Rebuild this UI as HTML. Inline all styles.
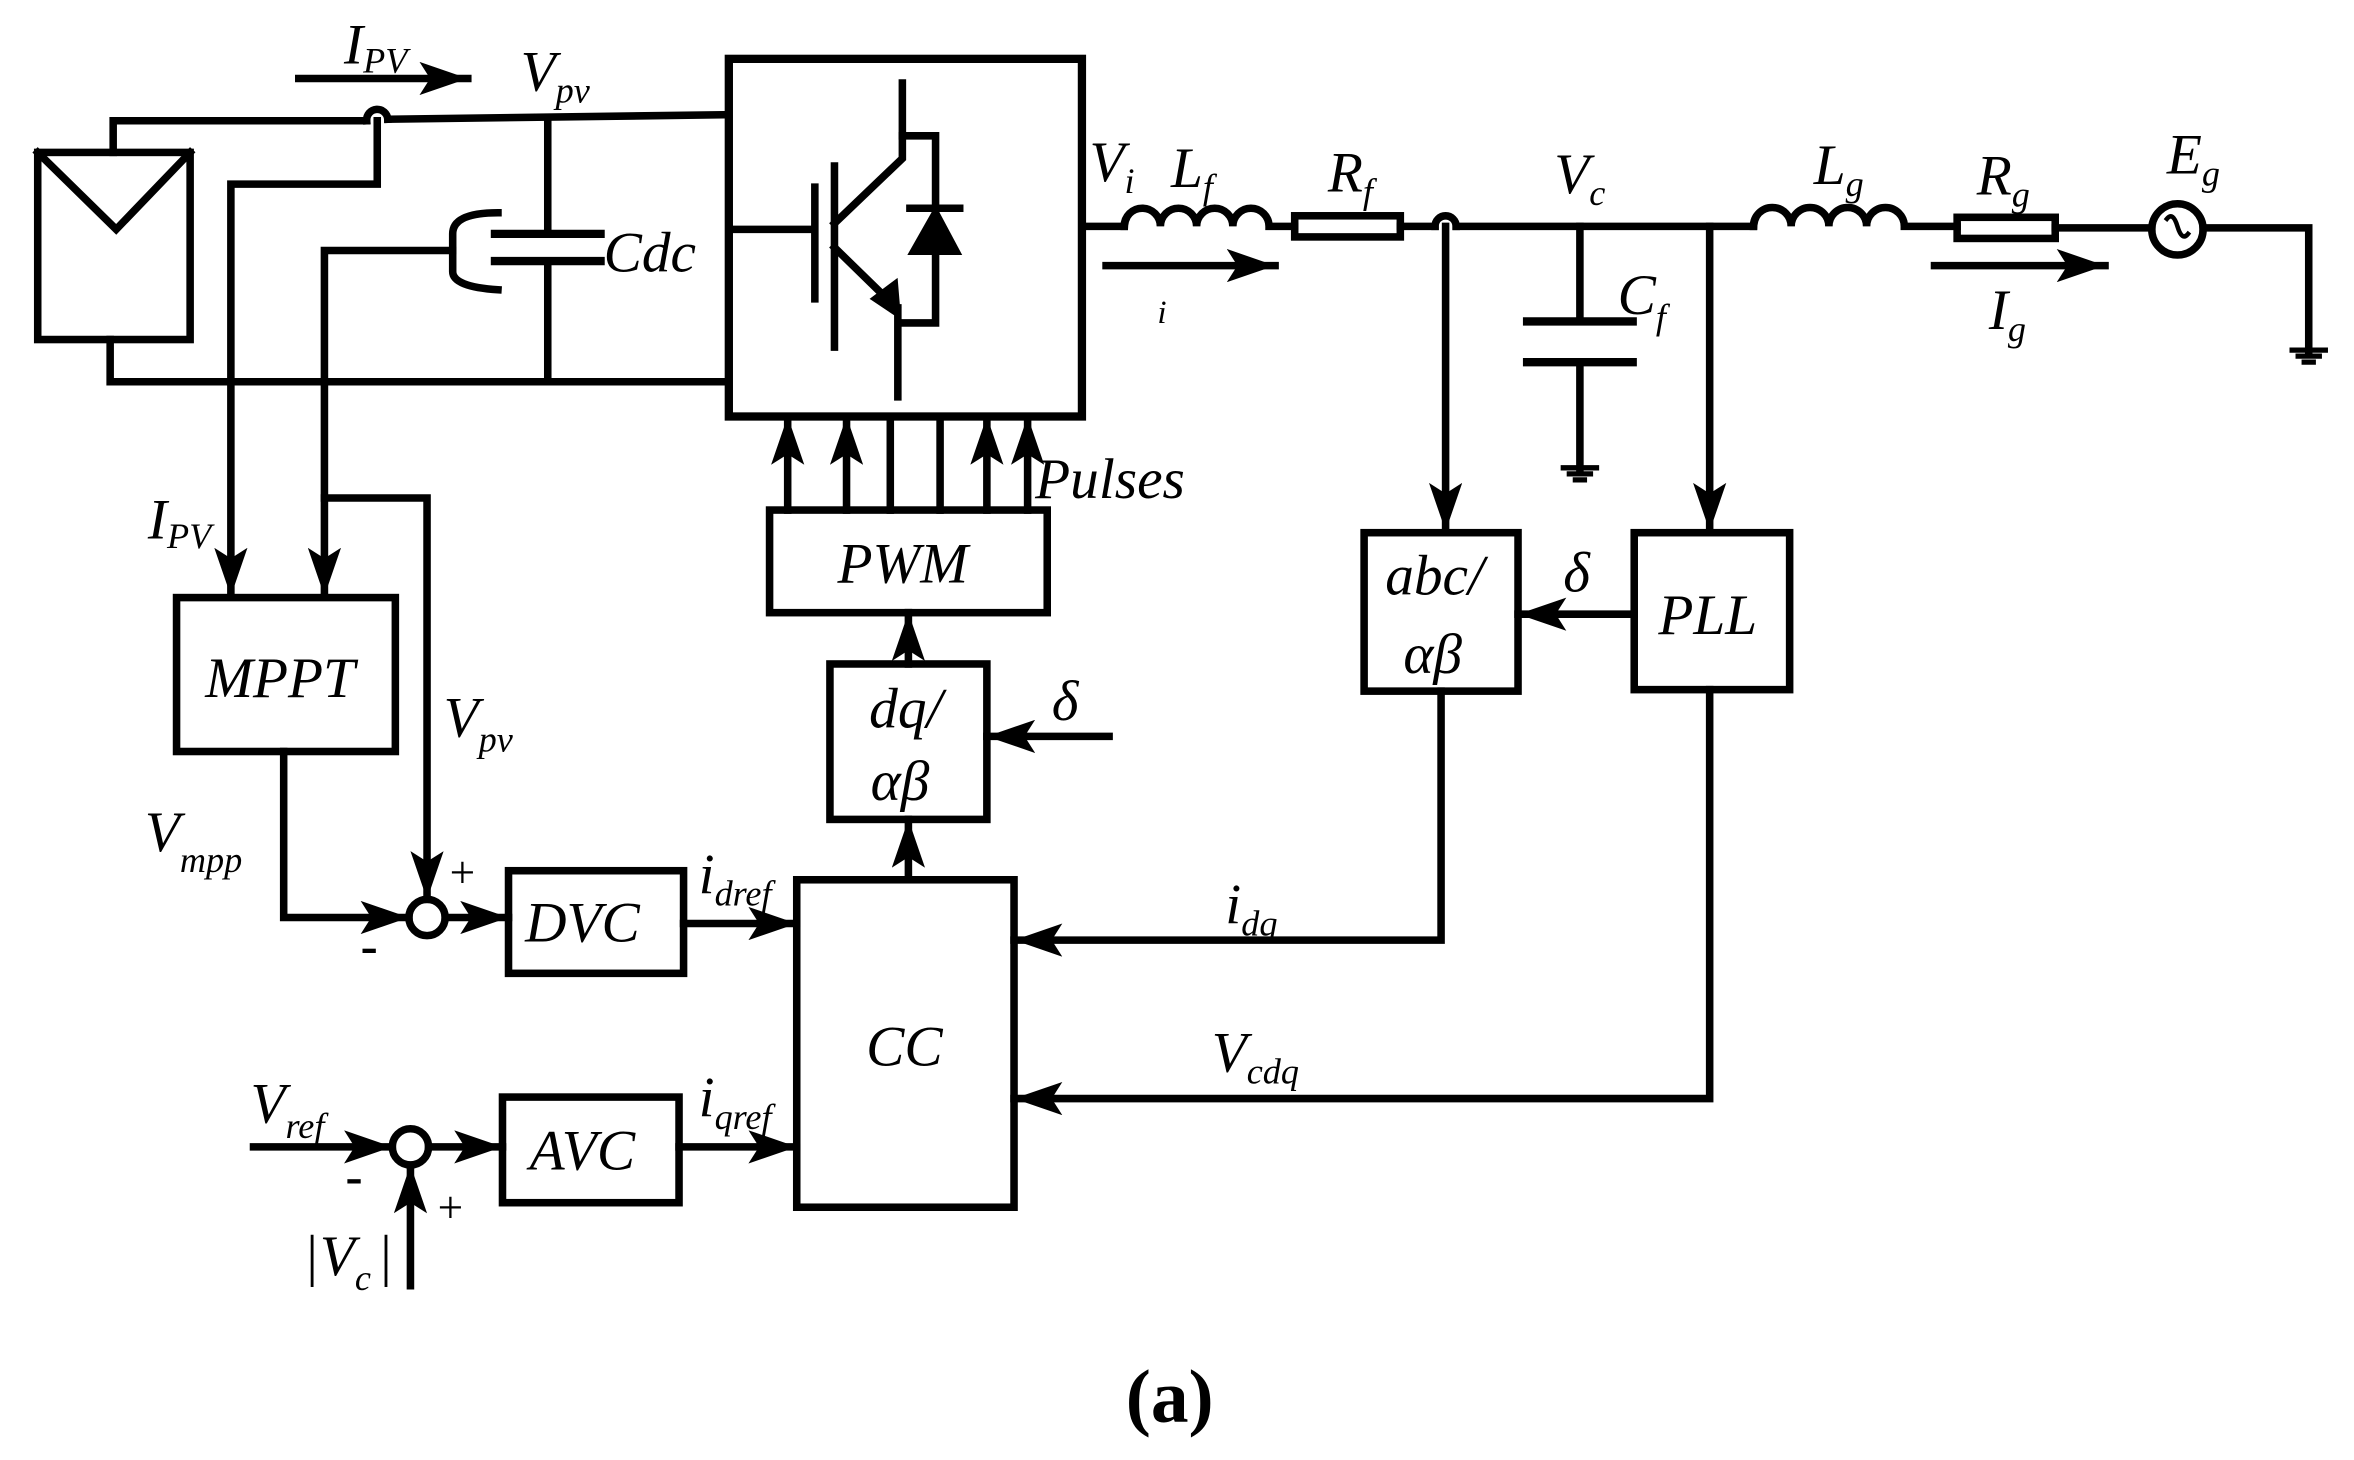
<!DOCTYPE html>
<html><head><meta charset="utf-8"><style>
html,body{margin:0;padding:0;background:#fff;}
svg{display:block;}
text{font-family:"Liberation Serif","Times New Roman","DejaVu Serif",serif;font-style:italic;fill:#000;}
text.n{font-style:normal;}
</style></head><body>
<svg width="2354" height="1460" viewBox="0 0 1560 967.5" preserveAspectRatio="none" xmlns="http://www.w3.org/2000/svg">
<defs>
<marker id="a" viewBox="0 0 32 22" refX="32" refY="11" markerWidth="32" markerHeight="22" markerUnits="userSpaceOnUse" orient="auto">
<path d="M0,0 L32,11 L0,22 L7,11 Z" fill="#000"/>
</marker>
</defs>
<g stroke="#000" stroke-width="5" fill="none" stroke-linecap="square">
<rect x="25" y="101" width="101" height="124"/>
<path d="M25,101 L77,152 L126,101"/>
<path d="M75,101 V80 H243"/>
<path d="M257,79 L483,76"/>
<path d="M243,80 A7,7 0 0 1 257,79"/>
<path d="M73,225 V253 H483"/>
<path d="M250,80 V122 H153 V395" marker-end="url(#a)"/>
<path d="M363,78 V155 M363,173 V253"/>
<path d="M328,155 H398 M328,173 H398" stroke-width="5.5"/>
<path d="M330,141 Q300,141 300,155 V180 Q300,190 330,192"/>
<path d="M300,166 H215 V395" marker-end="url(#a)"/>
<path d="M215,330 H283 V596" marker-end="url(#a)"/>
<rect x="483" y="39" width="234" height="237" stroke-width="5.5"/>
<path d="M487,152 H540 M540,124 V198 M553,110 V230"/>
<path d="M598,55 V105 L553,148 M553,164 L594,204"/>
<path d="M598,90 H620 V214 H595 M595,204 V263"/>
<path d="M603,138 H636"/>
<polygon points="603,168 636,168 620,138" fill="#000" stroke-width="2"/>
<polygon points="578,198 596,210 594,186" fill="#000" stroke-width="2"/>
<path d="M717,150 H745"/>
<path d="M745,150 a12,12 0 0 1 24,0 a12,12 0 0 1 24,0 a12,12 0 0 1 24,0 a12,12 0 0 1 24,0 H858"/>
<rect x="858" y="143" width="70" height="14"/>
<path d="M928,150 H951 M965,150 H1162"/>
<path d="M951,150 A7,7 0 0 1 965,150"/>
<path d="M1162,150 a12,12 0 0 1 25,0 a12,12 0 0 1 25,0 a12,12 0 0 1 25,0 a12,12 0 0 1 25,0 H1297"/>
<rect x="1297" y="144" width="65" height="14"/>
<path d="M1362,151 H1426 M1460,151 H1530 V232"/>
<circle cx="1443" cy="152" r="17"/>
<path d="M1436,145 Q1440,140 1443,150 Q1446,160 1450,155" stroke-width="3"/>
<path d="M733,176 H845" marker-end="url(#a)"/>
<path d="M1282,176 H1395" marker-end="url(#a)"/>
<path d="M1047,150 V213 M1047,240 V310"/>
<path d="M1012,213 H1082 M1012,240 H1082" stroke-width="5.5"/>
<path d="M1036,310 H1058 M1040,314 H1054 M1044,318 H1050" stroke-width="3.5"/>
<path d="M1519,232 H1541 M1523,236 H1537 M1527,240 H1533" stroke-width="3.5"/>
<path d="M958,150 V352" marker-end="url(#a)"/>
<path d="M1133,150 V352" marker-end="url(#a)"/>
<rect x="904" y="353" width="102" height="105"/>
<rect x="1083" y="353" width="103" height="104"/>
<path d="M1083,407 H1006" marker-end="url(#a)"/>
<path d="M955,458 V623 H672" marker-end="url(#a)"/>
<path d="M1133,457 V728 H672" marker-end="url(#a)"/>
<rect x="510" y="338" width="184" height="68"/>
<path d="M522,338 V276" marker-end="url(#a)"/>
<path d="M561,338 V276" marker-end="url(#a)"/>
<path d="M654,338 V276" marker-end="url(#a)"/>
<path d="M681,338 V276" marker-end="url(#a)"/>
<path d="M590,338 V278 M623,338 V278"/>
<rect x="550" y="440" width="104" height="103"/>
<path d="M602,440 V406" marker-end="url(#a)"/>
<path d="M735,488 H654" marker-end="url(#a)"/>
<path d="M602,583 V543" marker-end="url(#a)"/>
<rect x="528" y="583" width="144" height="217"/>
<rect x="117" y="396" width="145" height="102"/>
<path d="M188,498 V608 H271" marker-end="url(#a)"/>
<circle cx="283" cy="608" r="12"/>
<path d="M295,608 H337" marker-end="url(#a)"/>
<rect x="337" y="577" width="116" height="68"/>
<path d="M453,612 H528" marker-end="url(#a)"/>
<path d="M168,760 H260" marker-end="url(#a)"/>
<circle cx="272" cy="760" r="12"/>
<path d="M272,852 V772" marker-end="url(#a)"/>
<path d="M284,760 H333" marker-end="url(#a)"/>
<rect x="333" y="727" width="117" height="70"/>
<path d="M450,760 H528" marker-end="url(#a)"/>
<path d="M198,52 H310" marker-end="url(#a)"/>
</g>
<g font-size="38">
<text x="228" y="42">I<tspan font-size="24" dy="6">PV</tspan></text>
<text x="345" y="60">V<tspan font-size="24" dy="8">pv</tspan></text>
<text x="400" y="180">Cdc</text>
<text x="98" y="357">I<tspan font-size="24" dy="6">PV</tspan></text>
<text x="136" y="462">MPPT</text>
<text x="294" y="488">V<tspan font-size="24" dy="10">pv</tspan></text>
<text x="96" y="564">V<tspan font-size="24" dy="14">mpp</tspan></text>
<text x="298" y="588" class="n" font-size="30">+</text>
<text x="239" y="638" class="n" font-size="34" font-weight="bold">-</text>
<text x="348" y="624">DVC</text>
<text x="463" y="592">i<tspan font-size="24" dy="8">dref</tspan></text>
<text x="574" y="706">CC</text>
<text x="166" y="744">V<tspan font-size="24" dy="10">ref</tspan></text>
<text x="229" y="791" class="n" font-size="34" font-weight="bold">-</text>
<text x="290" y="810" class="n" font-size="30">+</text>
<text x="203" y="845" class="n">|</text><text x="212" y="845">V<tspan font-size="24" dy="10">c</tspan></text><text x="252" y="845" class="n">|</text>
<text x="351" y="775">AVC</text>
<text x="463" y="740">i<tspan font-size="24" dy="8">qref</tspan></text>
<text x="576" y="482">dq/</text>
<text x="577" y="530">αβ</text>
<text x="697" y="477">δ</text>
<text x="555" y="386">PWM</text>
<text x="686" y="330">Pulses</text>
<text x="722" y="120">V<tspan font-size="24" dy="8">i</tspan></text>
<text x="776" y="124">L<tspan font-size="24" dy="8">f</tspan></text>
<text x="880" y="127">R<tspan font-size="24" dy="8">f</tspan></text>
<text x="767" y="214" font-size="22">i</text>
<text x="1030" y="128">V<tspan font-size="24" dy="8">c</tspan></text>
<text x="1072" y="208">C<tspan font-size="24" dy="10">f</tspan></text>
<text x="1202" y="122">L<tspan font-size="24" dy="8">g</tspan></text>
<text x="1310" y="129">R<tspan font-size="24" dy="8">g</tspan></text>
<text x="1436" y="115">E<tspan font-size="24" dy="8">g</tspan></text>
<text x="1318" y="218">I<tspan font-size="24" dy="8">g</tspan></text>
<text x="918" y="394">abc/</text>
<text x="930" y="446">αβ</text>
<text x="1036" y="392">δ</text>
<text x="1099" y="420">PLL</text>
<text x="812" y="612">i<tspan font-size="24" dy="8">dq</tspan></text>
<text x="803" y="710">V<tspan font-size="24" dy="8">cdq</tspan></text>
<text x="746" y="942" class="n" font-weight="bold" font-size="50">(a)</text>
</g>
</svg>
</body></html>
